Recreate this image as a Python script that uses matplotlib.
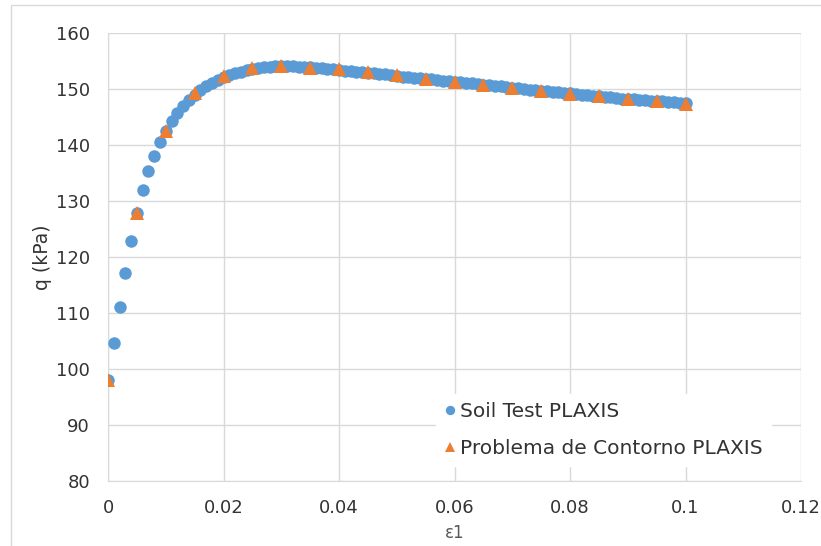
import numpy as np
import matplotlib.pyplot as plt
from matplotlib.patches import Rectangle

# Soil Test PLAXIS: one point every 0.001 of strain
strain_soil = np.round(np.arange(0, 0.1005, 0.001), 3)
q_soil = [
    98.0, 104.6, 111.0, 117.1, 122.9, 127.9, 132.0, 135.3, 138.1, 140.5,
    142.5, 144.3, 145.8, 147.0, 148.1, 149.0, 149.8, 150.5, 151.1, 151.6,
    152.1, 152.5, 152.8, 153.1, 153.4, 153.6, 153.8, 153.9, 154.0, 154.1,
    154.1, 154.1, 154.1, 154.0, 154.0, 153.9, 153.8, 153.7, 153.6, 153.5,
    153.4, 153.3, 153.2, 153.1, 153.0, 152.9, 152.8, 152.7, 152.6, 152.5,
    152.4, 152.2, 152.1, 152.0, 151.9, 151.8, 151.7, 151.6, 151.5, 151.4,
    151.3, 151.2, 151.1, 151.0, 150.9, 150.8, 150.7, 150.6, 150.5, 150.4,
    150.2, 150.1, 150.0, 149.9, 149.8, 149.7, 149.6, 149.5, 149.4, 149.3,
    149.2, 149.1, 149.0, 148.9, 148.8, 148.7, 148.6, 148.5, 148.4, 148.3,
    148.3, 148.2, 148.1, 148.0, 147.9, 147.9, 147.8, 147.7, 147.6, 147.5,
    147.5,
]

# Problema de Contorno PLAXIS: one point every 0.005
strain_bvp = [0.0, 0.005, 0.01, 0.015, 0.02, 0.025, 0.03, 0.035, 0.04, 0.045,
              0.05, 0.055, 0.06, 0.065, 0.07, 0.075, 0.08, 0.085, 0.09, 0.095, 0.1]
q_bvp = [98.0, 127.8, 142.5, 149.2, 152.3, 153.7, 154.1, 153.8, 153.5, 153.0,
         152.5, 151.8, 151.3, 150.7, 150.2, 149.6, 149.1, 148.7, 148.3, 147.9, 147.4]

x_ticks = [0, 0.02, 0.04, 0.06, 0.08, 0.1, 0.12]
x_labels = ["0", "0.02", "0.04", "0.06", "0.08", "0.1", "0.12"]
y_ticks = [80, 90, 100, 110, 120, 130, 140, 150, 160]

BLUE = "#5B9BD5"
ORANGE = "#ED7D31"
GRID = "#D9D9D9"
TEXT = "#333333"

plt.rcParams["font.family"] = ["DejaVu Sans"]

fig = plt.figure(figsize=(8.21, 5.46), dpi=100)
ax = fig.add_axes([108 / 821, 1 - 481 / 546, (801 - 108) / 821, (481 - 33) / 546])

# chart area border
fig.patches.append(Rectangle((11 / 821, -0.05), 1.1, 1 - 5 / 546 + 0.05,
                             transform=fig.transFigure, fill=False,
                             edgecolor=GRID, linewidth=1.0))

ax.plot(strain_soil, q_soil, linestyle="none", marker="o", markersize=9,
        color=BLUE, markeredgewidth=0, label="Soil Test PLAXIS", zorder=3)
ax.plot(strain_bvp, q_bvp, linestyle="none", marker="^", markersize=9.5,
        color=ORANGE, markeredgewidth=0, label="Problema de Contorno PLAXIS", zorder=4)

ax.set_xlim(0, 0.12)
ax.set_ylim(80, 160)
ax.set_xticks(x_ticks)
ax.set_xticklabels(x_labels)
ax.set_yticks(y_ticks)
ax.grid(True, color=GRID, linewidth=1.0)
ax.set_axisbelow(True)
for side in ["top", "right"]:
    ax.spines[side].set_visible(False)
for side in ["left", "bottom"]:
    ax.spines[side].set_color(GRID)
ax.tick_params(length=0, labelsize=13, colors=TEXT, pad=13)

ax.set_xlabel("\u03b51", fontsize=12, color="#595959", labelpad=5)
ax.set_ylabel("q (kPa)", fontsize=13.5, color=TEXT, labelpad=3)

leg = ax.legend(loc="upper left", bbox_to_anchor=(426 / 821, 1 - 384 / 546),
                bbox_transform=fig.transFigure, frameon=True, fontsize=14.5,
                markerscale=0.75, handlelength=0.6, handletextpad=0.2,
                labelspacing=0.9, borderpad=0.4, fancybox=False)
leg.get_frame().set_edgecolor("white")
leg.get_frame().set_alpha(1)
for t in leg.get_texts():
    t.set_color(TEXT)

fig.savefig("out.png", dpi=100)
